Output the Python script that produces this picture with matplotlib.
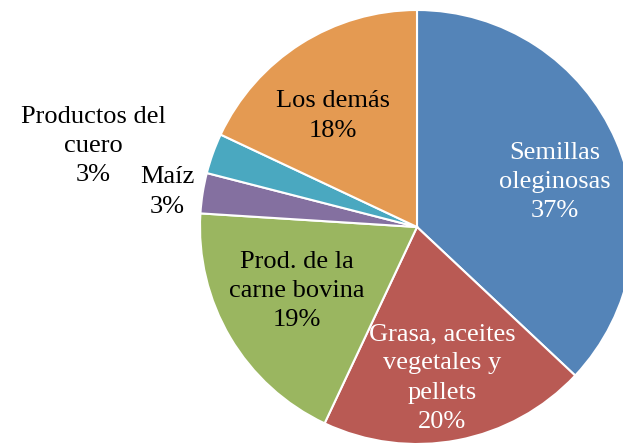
import matplotlib
matplotlib.use("Agg")
from matplotlib import pyplot as plt

labels = ["Semillas\noleginosas", "Grasa, aceites\nvegetales y\npellets", "Prod. de la\ncarne bovina",
          "Maíz", "Productos del\ncuero", "Los demás"]
shares = [37, 20, 19, 3, 3, 18]
colors = ["#5484b8", "#b95a54", "#9ab660", "#8470a0", "#4aa8c0", "#e49a52"]
text_colors = ["white", "white", "black", "black", "black", "black"]
# label centres in pixel coordinates (x, y from top)
label_pos = [(555, 182), (442, 378), (297, 291), (167, 192), (93, 146), (333, 116)]

plt.rcParams["font.family"] = ["Liberation Serif", "DejaVu Serif"]

fig = plt.figure(figsize=(6.23, 4.44), dpi=100)
ax = fig.add_axes([0, 0, 1, 1])

ax.pie(shares, colors=colors, startangle=90, counterclock=False,
       center=(417, 444 - 227), radius=217, frame=True,
       wedgeprops=dict(edgecolor="white", linewidth=1.5))
ax.set_xlim(0, 623)
ax.set_ylim(0, 444)
ax.axis("off")

for lab, val, (px, py), tc in zip(labels, shares, label_pos, text_colors):
    ax.text(px, 444 - py, lab + "\n" + str(val) + "%", ha="center", va="center",
            fontsize=19, color=tc, linespacing=1.42)

fig.savefig("out.png", dpi=100)
